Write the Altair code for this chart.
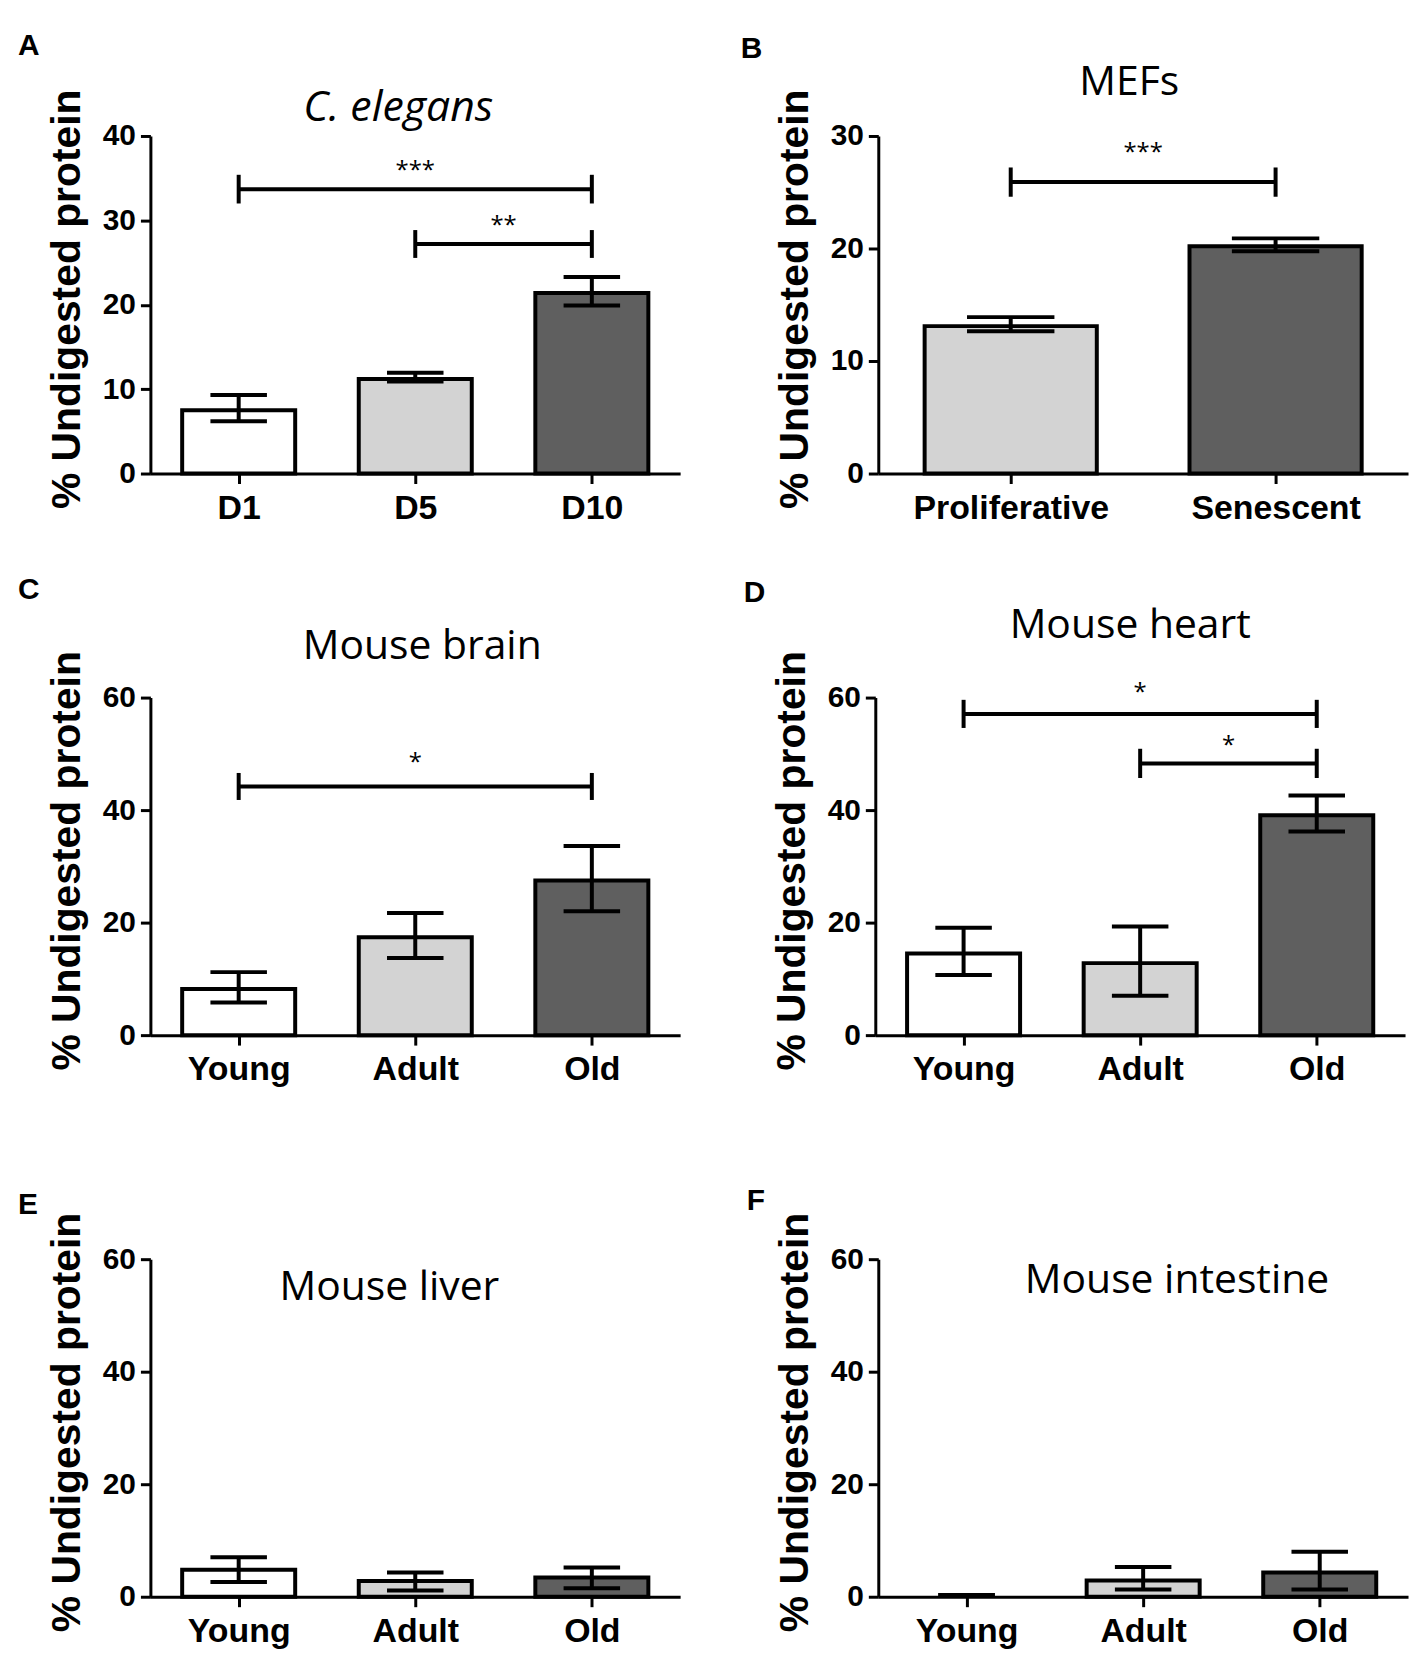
import json
import altair as alt
import pandas as pd

W, H = 532, 339
WHITE, LIGHT, DARK = "#ffffff", "#d3d3d3", "#5f5f5f"
YTITLE = "% Undigested protein"
SANS = "Liberation Sans"
TFONT = "Open Sans"

# ---------------- data ----------------
# A  C. elegans
a_cats = ["D1", "D5", "D10"]
a_mean = [7.5, 11.2, 21.4]
a_low = [6.2, 10.9, 19.9]
a_high = [9.3, 11.95, 23.3]
a_fill = [WHITE, LIGHT, DARK]
a_br_from = [0, 1]
a_br_to = [2, 2]
a_br_y = [33.7, 27.2]
a_br_half = [1.7, 1.65]
a_br_text = ["***", "**"]
a_br_text_y = [35.9, 29.3]

# B  MEFs
b_cats = ["Proliferative", "Senescent"]
b_mean = [13.1, 20.2]
b_low = [12.65, 19.75]
b_high = [13.9, 20.9]
b_fill = [LIGHT, DARK]
b_br_from = [0]
b_br_to = [1]
b_br_y = [25.9]
b_br_half = [1.3]
b_br_text = ["***"]
b_br_text_y = [28.5]

# C  Mouse brain
c_cats = ["Young", "Adult", "Old"]
c_mean = [8.2, 17.4, 27.5]
c_low = [5.8, 13.7, 22.0]
c_high = [11.2, 21.7, 33.6]
c_fill = [WHITE, LIGHT, DARK]
c_br_from = [0]
c_br_to = [2]
c_br_y = [44.2]
c_br_half = [2.4]
c_br_text = ["*"]
c_br_text_y = [48.3]

# D  Mouse heart
d_cats = ["Young", "Adult", "Old"]
d_mean = [14.5, 12.8, 39.1]
d_low = [10.7, 7.0, 36.2]
d_high = [19.1, 19.3, 42.6]
d_fill = [WHITE, LIGHT, DARK]
d_br_from = [0, 1]
d_br_to = [2, 2]
d_br_y = [57.1, 48.3]
d_br_half = [2.5, 2.6]
d_br_text = ["*", "*"]
d_br_text_y = [60.8, 51.4]

# E  Mouse liver
e_cats = ["Young", "Adult", "Old"]
e_mean = [4.8, 2.8, 3.4]
e_low = [2.6, 1.1, 1.5]
e_high = [7.0, 4.3, 5.2]
e_fill = [WHITE, LIGHT, DARK]

# F  Mouse intestine
f_cats = ["Young", "Adult", "Old"]
f_mean = [0.0, 2.9, 4.3]
f_low = [0.3, 1.3, 1.3]
f_high = [0.3, 5.3, 8.0]
f_fill = [WHITE, LIGHT, DARK]

SW = 4  # stroke width of bars / error bars / brackets


def panel(letter, title, italic, cats, mean, low, high, fill, ymax, ystep,
          br_from, br_to, br_y, br_half, br_text, br_text_y,
          title_dx, title_y, letter_x, letter_y, bar_half=0.32, cap_half=0.16):
    n = len(cats)
    idx = list(range(n))
    bars = pd.DataFrame({"i": idx, "cat": cats, "mean": mean,
                         "low": low, "high": high, "fill": fill})
    bars["b0"] = bars["i"] - bar_half
    bars["b1"] = bars["i"] + bar_half
    bars["c0"] = bars["i"] - cap_half
    bars["c1"] = bars["i"] + cap_half

    xscale = alt.Scale(domain=[-0.5, n - 0.5], nice=False, zero=False)
    yscale = alt.Scale(domain=[0, ymax], nice=False)
    xaxis = alt.Axis(values=idx, labelExpr=json.dumps(cats) + "[datum.value]",
                     labelFont=SANS, labelFontSize=34, labelFontWeight="bold",
                     labelColor="black", labelAngle=0, labelPadding=8,
                     labelLimit=500,
                     tickSize=10, tickWidth=3, tickColor="black",
                     domainWidth=3, domainColor="black", grid=False,
                     labelFlush=False)
    yaxis = alt.Axis(values=list(range(0, ymax + 1, ystep)),
                     labelFont=SANS, labelFontSize=30, labelFontWeight="bold",
                     labelColor="black", labelPadding=5,
                     tickSize=10, tickWidth=3, tickColor="black",
                     domainWidth=3, domainColor="black", grid=False,
                     titleFont=SANS, titleFontSize=41, titleFontWeight="bold",
                     titleColor="black", titleX=-83, titleY=H / 2 - 6,
                     titleAngle=270, titleAlign="center", titleBaseline="middle")

    def X(f):
        return alt.X(f, type="quantitative", scale=xscale, axis=xaxis, title=None)

    def Y(f):
        return alt.Y(f, type="quantitative", scale=yscale, axis=yaxis, title=YTITLE)

    base = alt.Chart(bars)
    bar_l = base.mark_bar(stroke="black", strokeWidth=SW).encode(
        x=X("b0"), x2="b1", y=Y("mean"), y2=alt.datum(0),
        fill=alt.Fill("fill:N", scale=None),
        strokeOpacity=alt.condition("datum.mean > 0", alt.value(1), alt.value(0)))
    err_l = base.mark_rule(color="black", strokeWidth=SW).encode(
        x=X("i"), y=Y("low"), y2="high")
    caplo = base.mark_rule(color="black", strokeWidth=SW).encode(
        x=X("c0"), x2="c1", y=Y("low"))
    caphi = base.mark_rule(color="black", strokeWidth=SW).encode(
        x=X("c0"), x2="c1", y=Y("high"))
    layers = [bar_l, err_l, caplo, caphi]

    if br_from:
        br = pd.DataFrame({"a": br_from, "b": br_to, "y": br_y,
                           "h": br_half, "t": br_text, "ty": br_text_y})
        br["lo"] = br["y"] - br["h"]
        br["hi"] = br["y"] + br["h"]
        br["mid"] = (br["a"] + br["b"]) / 2
        bb = alt.Chart(br)
        layers += [
            bb.mark_rule(color="black", strokeWidth=SW).encode(
                x=X("a"), x2="b", y=Y("y")),
            bb.mark_rule(color="black", strokeWidth=SW).encode(
                x=X("a"), y=Y("lo"), y2="hi"),
            bb.mark_rule(color="black", strokeWidth=SW).encode(
                x=X("b"), y=Y("lo"), y2="hi"),
            bb.mark_text(font=TFONT, fontSize=24, color="black",
                         baseline="middle", align="center").encode(
                x=X("mid"), y=Y("ty"), text="t:N"),
        ]

    # panel title (annotation)
    ttl = alt.Chart(pd.DataFrame({"title": [title]})).mark_text(
        font=TFONT, fontSize=43 if italic else 41, color="black",
        fontStyle="italic" if italic else "normal",
        align="center", baseline="alphabetic").encode(
        x=alt.value(W / 2 + title_dx), y=alt.value(title_y), text="title:N")
    # panel letter (annotation)
    lab = alt.Chart(pd.DataFrame({"letter": [letter]})).mark_text(
        font=SANS, fontSize=30, fontWeight="bold", color="black",
        align="left", baseline="top").encode(
        x=alt.value(letter_x), y=alt.value(letter_y), text="letter:N")
    layers += [ttl, lab]

    return alt.layer(*layers).properties(width=W, height=H)


pA = panel("A", "C. elegans", True, a_cats, a_mean, a_low, a_high, a_fill, 40, 10,
           a_br_from, a_br_to, a_br_y, a_br_half, a_br_text, a_br_text_y,
           -17, -15, -133, -105)
pB = panel("B", "MEFs", False, b_cats, b_mean, b_low, b_high, b_fill, 30, 10,
           b_br_from, b_br_to, b_br_y, b_br_half, b_br_text, b_br_text_y,
           -14, -41, -138, -102, bar_half=0.325, cap_half=0.165)
pC = panel("C", "Mouse brain", False, c_cats, c_mean, c_low, c_high, c_fill, 60, 20,
           c_br_from, c_br_to, c_br_y, c_br_half, c_br_text, c_br_text_y,
           7, -39, -133, -123)
pD = panel("D", "Mouse heart", False, d_cats, d_mean, d_low, d_high, d_fill, 60, 20,
           d_br_from, d_br_to, d_br_y, d_br_half, d_br_text, d_br_text_y,
           -10, -60, -132, -120)
pE = panel("E", "Mouse liver", False, e_cats, e_mean, e_low, e_high, e_fill, 60, 20,
           [], [], [], [], [], [], -26, 41, -133, -69)
pF = panel("F", "Mouse intestine", False, f_cats, f_mean, f_low, f_high, f_fill, 60, 20,
           [], [], [], [], [], [], 34, 34, -132, -73)

row1 = alt.hconcat(pA, pB, spacing=61)
row2 = alt.hconcat(pC, pD, spacing=64)
row3 = alt.hconcat(pE, pF, spacing=67)
top = alt.vconcat(row1, row2, spacing=50)
chart = alt.vconcat(top, row3, spacing=100).configure_view(stroke=None).properties(
    padding={"left": 10, "top": 20, "right": 5, "bottom": 5})

chart.save("out.html", embed_options={"renderer": "svg", "actions": False})
